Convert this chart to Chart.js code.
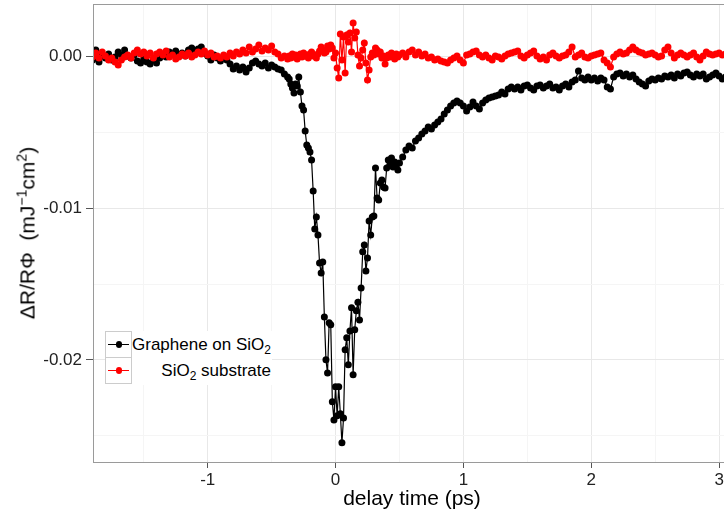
<!DOCTYPE html>
<html><head><meta charset="utf-8">
<script src="https://cdn.jsdelivr.net/npm/chart.js@4.4.0/dist/chart.umd.min.js"></script>
<style>
html,body{margin:0;padding:0;background:#fff;overflow:hidden;}
#wrap{position:relative;width:724px;height:517px;overflow:hidden;font-family:"Liberation Sans",Arial,Helvetica,sans-serif;}
#c{position:absolute;left:0;top:0;}
#ytitle{position:absolute;left:27px;top:233px;transform:translate(-50%,-50%) rotate(-90deg);white-space:nowrap;font-size:21px;color:#000;line-height:1;}
#ytitle sup{font-size:14px;vertical-align:baseline;position:relative;top:-8px;}
#legend{position:absolute;left:105px;top:331px;width:167px;height:54px;background:#fff;}
.key{position:absolute;left:0;width:27px;height:27px;border:1px solid #cccccc;box-sizing:border-box;background:#fff;}
.key .ln{position:absolute;left:2px;right:2px;top:12px;height:1.3px;}
.key .pt{position:absolute;left:9.5px;top:9px;width:6.8px;height:6.8px;border-radius:50%;}
.lab{position:absolute;right:1px;font-size:17px;line-height:20px;color:#000;white-space:nowrap;}
.lab sub{font-size:12px;vertical-align:baseline;position:relative;top:4px;}
</style>
</head>
<body>
<div id="wrap">
<canvas id="c" width="731" height="517"></canvas>
<div id="ytitle">&Delta;R/R&Phi;&nbsp;&nbsp;(mJ<sup>&minus;1</sup>cm<sup>2</sup>)</div>
<div id="legend">
  <div class="key" style="top:0"><div class="ln" style="background:#000"></div><div class="pt" style="background:#000"></div></div>
  <div class="key" style="top:26px"><div class="ln" style="background:#ff0000"></div><div class="pt" style="background:#ff0000"></div></div>
  <div class="lab" style="top:4px">Graphene on SiO<sub>2</sub></div>
  <div class="lab" style="top:30px">SiO<sub>2</sub> substrate</div>
</div>
</div>
<script>
// delay time (ps)
const delayEarly = [
-1.9, -1.875, -1.85, -1.825, -1.8, -1.775, -1.75, -1.725, -1.7, -1.675,
-1.65, -1.625, -1.6, -1.575, -1.55, -1.525, -1.5, -1.475, -1.45, -1.425,
-1.4, -1.375, -1.35, -1.325, -1.3, -1.275, -1.25, -1.225, -1.2, -1.175,
-1.15, -1.125, -1.1, -1.075, -1.05, -1.025, -1, -0.975, -0.95, -0.925,
-0.9, -0.875, -0.85, -0.825, -0.8, -0.775, -0.75, -0.725, -0.7, -0.675,
-0.65, -0.625, -0.6, -0.575, -0.55, -0.525, -0.5, -0.475, -0.45, -0.425,
-0.4, -0.375];
const delayPeak = [
-0.3625, -0.35, -0.3375, -0.325, -0.3125, -0.3, -0.2875, -0.275, -0.2625, -0.25,
-0.2375, -0.225, -0.2125, -0.2, -0.1875, -0.175, -0.1625, -0.15, -0.1375, -0.125,
-0.1125, -0.1, -0.0875, -0.075, -0.0625, -0.05, -0.0375, -0.025, -0.0125, 0,
0.0125, 0.025, 0.0375, 0.05, 0.0625, 0.075, 0.0875, 0.1, 0.1125, 0.125,
0.1375, 0.15, 0.1625, 0.175, 0.1875, 0.2, 0.2125, 0.225, 0.2375, 0.25,
0.2625, 0.275, 0.2875, 0.3, 0.3125, 0.325, 0.3375, 0.35, 0.3625, 0.375,
0.3875, 0.4, 0.4125, 0.425, 0.4375, 0.45, 0.4625, 0.475, 0.4875];
const delayLate = [
0.5, 0.525, 0.55, 0.575, 0.6, 0.625, 0.65, 0.675, 0.7, 0.725,
0.75, 0.775, 0.8, 0.825, 0.85, 0.875, 0.9, 0.925, 0.95, 0.975,
1, 1.025, 1.05, 1.075, 1.1, 1.125, 1.15, 1.175, 1.2, 1.225,
1.25, 1.275, 1.3, 1.325, 1.35, 1.375, 1.4, 1.425, 1.45, 1.475,
1.5, 1.525, 1.55, 1.575, 1.6, 1.625, 1.65, 1.675, 1.7, 1.725,
1.75, 1.775, 1.8, 1.825, 1.85, 1.875, 1.9, 1.925, 1.95, 1.975,
2, 2.025, 2.05, 2.075, 2.1, 2.125, 2.15, 2.175, 2.2, 2.225,
2.25, 2.275, 2.3, 2.325, 2.35, 2.375, 2.4, 2.425, 2.45, 2.475,
2.5, 2.525, 2.55, 2.575, 2.6, 2.625, 2.65, 2.675, 2.7, 2.725,
2.75, 2.775, 2.8, 2.825, 2.85, 2.875, 2.9, 2.925, 2.95, 2.975,
3, 3.025, 3.05];

// Graphene on SiO2: dR/(R*Phi) (mJ^-1 cm^2)
const grapheneEarly = [
-0.00022, 0.00044, -0.00035, 0.00011, -0.00009, 0.00018, -0.00022, -0.00002, 0.00031, 0.00011,
0.00044, 0.00005, -0.00009, 0.00011, -0.00028, -0.00042, -0.00015, -0.00035, -0.00048, -0.00022,
-0.00042, -0.00009, 0.00011, -0.00002, 0.00031, 0.00018, 0.00038, 0.00011, 0.00024, 0.00005,
0.00044, 0.00057, 0.00031, 0.00051, 0.00064, 0.00024, 0.00005, -0.00022, 0.00011, -0.00009,
-0.00028, -0.00002, -0.00022, -0.00048, -0.00081, -0.00061, -0.00088, -0.00068, -0.00101, -0.00074,
-0.00042, -0.00028, -0.00048, -0.00061, -0.00042, -0.00074, -0.00055, -0.00068, -0.00081, -0.00088,
-0.00114, -0.00134];
const graphenePeak = [
-0.00147, -0.00180, -0.00206, -0.00239, -0.00180, -0.00193, -0.00134, -0.00233, -0.00325, -0.00351,
-0.00490, -0.00582, -0.00602, -0.00628, -0.00681, -0.00885, -0.01136, -0.01057, -0.01175, -0.01360,
-0.01426, -0.01353, -0.01716, -0.01999, -0.02085, -0.01755, -0.01768, -0.02276, -0.02395, -0.02177,
-0.02368, -0.02177, -0.02355, -0.02546, -0.02382, -0.01933, -0.01854, -0.02032, -0.01808, -0.01656,
-0.02098, -0.01801, -0.01676, -0.01619, -0.01736, -0.01525, -0.01287, -0.01241, -0.01413, -0.01327,
-0.01083, -0.01175, -0.01057, -0.01050, -0.00734, -0.00931, -0.00945, -0.00833, -0.00813, -0.00859,
-0.00865, -0.00734, -0.00681, -0.00714, -0.00668, -0.00727, -0.00694, -0.00714, -0.00747];
const grapheneLate = [
-0.00701, -0.00661, -0.00615, -0.00589, -0.00602, -0.00556, -0.00536, -0.00510, -0.00490, -0.00463,
-0.00477, -0.00450, -0.00430, -0.00411, -0.00378, -0.00351, -0.00325, -0.00305, -0.00292, -0.00305,
-0.00325, -0.00358, -0.00332, -0.00299, -0.00325, -0.00345, -0.00305, -0.00285, -0.00272, -0.00266,
-0.00259, -0.00252, -0.00233, -0.00246, -0.00213, -0.00200, -0.00213, -0.00200, -0.00219, -0.00193,
-0.00187, -0.00206, -0.00219, -0.00193, -0.00187, -0.00206, -0.00193, -0.00180, -0.00206, -0.00200,
-0.00219, -0.00193, -0.00180, -0.00200, -0.00167, -0.00154, -0.00094, -0.00140, -0.00154, -0.00134,
-0.00154, -0.00140, -0.00160, -0.00140, -0.00154, -0.00200, -0.00213, -0.00134, -0.00114, -0.00107,
-0.00127, -0.00114, -0.00134, -0.00121, -0.00147, -0.00167, -0.00180, -0.00193, -0.00160, -0.00147,
-0.00154, -0.00140, -0.00147, -0.00127, -0.00134, -0.00121, -0.00140, -0.00114, -0.00127, -0.00107,
-0.00101, -0.00121, -0.00134, -0.00114, -0.00127, -0.00114, -0.00147, -0.00134, -0.00121, -0.00107,
-0.00127, -0.00147, -0.00134];

// SiO2 substrate
const substrateEarly = [
-0.00002, 0.00024, -0.00009, 0.00031, 0.00005, -0.00022, -0.00009, -0.00035, -0.00055, -0.00022,
-0.00002, 0.00011, -0.00009, 0.00024, 0.00044, 0.00018, 0.00031, 0.00005, 0.00024, -0.00009,
0.00018, 0.00031, 0.00011, 0.00038, -0.00002, 0.00011, -0.00015, -0.00002, 0.00018, 0.00005,
0.00024, -0.00002, 0.00011, 0.00031, 0.00018, 0.00038, 0.00011, 0.00024, -0.00002, 0.00005,
-0.00009, 0.00011, -0.00002, 0.00024, 0.00005, 0.00031, 0.00018, 0.00044, 0.00024, 0.00064,
0.00031, 0.00051, 0.00077, 0.00038, 0.00057, 0.00044, 0.00071, 0.00031, 0.00018, -0.00009,
0.00005, -0.00015];
const substratePeak = [
0.00005, -0.00009, 0.00018, -0.00002, 0.00011, -0.00015, 0.00005, 0.00018, -0.00002, 0.00024,
0.00005, 0.00011, -0.00009, 0.00018, 0.00031, 0.00005, 0.00011, -0.00009, 0.00018, 0.00038,
0.00064, 0.00044, 0.00024, 0.00031, 0.00071, 0.00051, 0.00077, 0.00057, -0.00009, 0.00024,
-0.00074, -0.00140, 0.00150, -0.00022, 0.00130, -0.00107, 0.00143, 0.00097, 0.00156, 0.00031,
0.00222, 0.00123, 0.00163, 0.00011, -0.00061, -0.00009, 0.00044, 0.00090, -0.00042, -0.00154,
-0.00088, -0.00002, 0.00024, 0.00011, 0.00057, 0.00044, 0.00018, 0.00031, -0.00009, 0.00005,
-0.00048, -0.00009, 0.00011, -0.00002, 0.00024, 0.00005, -0.00015, 0.00018, -0.00002];
const substrateLate = [
0.00011, 0.00024, -0.00002, 0.00031, 0.00044, 0.00011, 0.00031, 0.00005, 0.00018, -0.00009,
-0.00002, -0.00022, -0.00015, -0.00028, -0.00035, -0.00042, -0.00022, -0.00009, 0.00005, -0.00022,
-0.00042, 0.00011, 0.00018, 0.00031, 0.00038, 0.00011, -0.00002, 0.00011, -0.00009, -0.00022,
0.00005, -0.00002, -0.00015, 0.00005, 0.00018, 0.00024, 0.00031, 0.00038, 0.00005, -0.00009,
0.00011, 0.00024, 0.00038, 0.00005, -0.00015, -0.00002, -0.00022, 0.00011, 0.00024, 0.00005,
-0.00009, 0.00005, 0.00011, 0.00031, 0.00064, -0.00002, 0.00011, 0.00024, -0.00002, -0.00009,
0.00005, 0.00011, 0.00018, 0.00024, -0.00022, -0.00042, -0.00068, -0.00002, 0.00018, 0.00031,
0.00018, 0.00024, 0.00044, 0.00064, 0.00044, 0.00031, 0.00024, 0.00011, 0.00018, 0.00024,
0.00011, -0.00002, 0.00005, 0.00044, 0.00064, 0.00024, -0.00009, 0.00011, 0.00024, 0.00011,
-0.00002, 0.00011, 0.00024, -0.00002, -0.00022, 0.00005, 0.00031, 0.00018, 0.00011, 0.00018,
0.00024, 0.00011, 0.00018];

// axis ticks (labelled ones are major, unlabelled ones are minor grid lines)
const xTickValues = [-1.5, -1, -0.5, 0, 0.5, 1, 1.5, 2, 2.5, 3];
const xTickLabels = ['', '-1', '', '0', '', '1', '', '2', '', '3'];
const yTickValues = [-0.025, -0.02, -0.015, -0.01, -0.005, 0];
const yTickLabels = ['', '-0.02', '', '-0.01', '', '0.00'];

const delayTime = delayEarly.concat(delayPeak, delayLate);
const graphene = grapheneEarly.concat(graphenePeak, grapheneLate);
const substrate = substrateEarly.concat(substratePeak, substrateLate);

const toPoints = ys => delayTime.map((x, i) => ({x: x, y: ys[i]}));
const labelAt = (vals, labs, v) => { const i = vals.findIndex(t => Math.abs(t - v) < 1e-9); return i < 0 ? '' : labs[i]; };
const isMajor = (vals, labs, v) => labelAt(vals, labs, v) !== '';

const panelBorder = {
  id: 'panelBorder',
  afterDatasetsDraw(chart) {
    const {ctx, chartArea: a} = chart;
    ctx.save();
    ctx.strokeStyle = '#9a9a9a';
    ctx.lineWidth = 1;
    ctx.strokeRect(a.left + 0.5, a.top + 0.5, a.right - a.left, a.bottom - a.top);
    ctx.restore();
  }
};

Chart.defaults.font.family = '"Liberation Sans", Arial, Helvetica, sans-serif';

new Chart(document.getElementById('c'), {
  type: 'scatter',
  data: {
    datasets: [
      { label: 'SiO2 substrate', data: toPoints(substrate), showLine: true,
        borderColor: '#ff0000', backgroundColor: '#ff0000', borderWidth: 1.2,
        pointRadius: 3.5, pointBorderWidth: 0, pointHoverRadius: 3.5 },
      { label: 'Graphene on SiO2', data: toPoints(graphene), showLine: true,
        borderColor: '#000000', backgroundColor: '#000000', borderWidth: 1.2,
        pointRadius: 3.5, pointBorderWidth: 0, pointHoverRadius: 3.5 }
    ]
  },
  options: {
    responsive: false,
    animation: false,
    devicePixelRatio: 1,
    layout: { autoPadding: false, padding: { top: 4, left: 0, right: 0, bottom: 0 } },
    plugins: { legend: { display: false }, tooltip: { enabled: false } },
    scales: {
      x: {
        type: 'linear', min: -1.897, max: 3.093,
        afterBuildTicks: s => { s.ticks = xTickValues.map(v => ({value: v})); },
        afterFit: s => { s.height = 55; s.paddingLeft = 0; s.paddingRight = 0; },
        ticks: { autoSkip: false, maxRotation: 0, padding: 2, color: '#222', font: { size: 17 },
                 callback: v => labelAt(xTickValues, xTickLabels, v) },
        grid: {
          color: c => isMajor(xTickValues, xTickLabels, c.tick.value) ? '#e8e8e8' : '#f5f5f5',
          tickColor: c => isMajor(xTickValues, xTickLabels, c.tick.value) ? '#555' : 'rgba(0,0,0,0)',
          tickLength: 6, lineWidth: 1
        },
        border: { display: false },
        title: { display: true, text: 'delay time (ps)', color: '#000', font: { size: 21 }, padding: { top: 0, bottom: 5 } }
      },
      y: {
        type: 'linear', min: -0.026726, max: 0.003475,
        afterBuildTicks: s => { s.ticks = yTickValues.map(v => ({value: v})); },
        afterFit: s => { s.width = 93; s.paddingTop = 0; s.paddingBottom = 0; },
        ticks: { autoSkip: false, padding: 4, color: '#222', font: { size: 17 },
                 callback: v => labelAt(yTickValues, yTickLabels, v) },
        grid: {
          color: c => isMajor(yTickValues, yTickLabels, c.tick.value) ? '#e8e8e8' : '#f5f5f5',
          tickColor: c => isMajor(yTickValues, yTickLabels, c.tick.value) ? '#555' : 'rgba(0,0,0,0)',
          tickLength: 7, lineWidth: 1
        },
        border: { display: false }
      }
    }
  },
  plugins: [panelBorder]
});
</script>
</body></html>
